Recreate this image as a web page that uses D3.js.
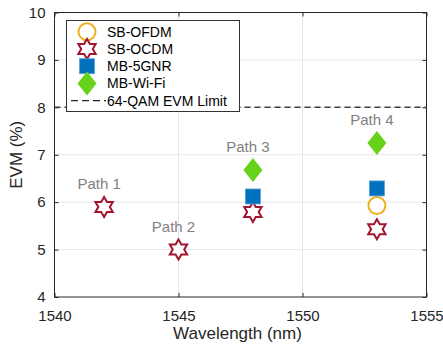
<!DOCTYPE html>
<html>
<head>
<meta charset="utf-8">
<script src="https://cdn.jsdelivr.net/npm/d3@7"></script>
<style>
  body { margin: 0; background: #fff; }
  text { font-family: "Liberation Sans", Arial, Helvetica, sans-serif; }
</style>
</head>
<body>
<div id="chart"></div>
<script>
const wavelengths = [1542, 1545, 1548, 1553];
const pathLabels = ["Path 1", "Path 2", "Path 3", "Path 4"];
const sbOfdm = [null, null, null, 5.93];
const sbOcdm = [5.9, 5.0, 5.79, 5.43];
const mb5gnr = [null, null, 6.12, 6.29];
const mbWifi = [null, null, 6.68, 7.25];
const evmLimit = 8;
const xTicks = [1540, 1545, 1550, 1555];
const yTicks = [4, 5, 6, 7, 8, 9, 10];
const legendNames = ["SB-OFDM", "SB-OCDM", "MB-5GNR", "MB-Wi-Fi", "64-QAM EVM Limit"];

var margin = { top: 12.5, right: 16.5, bottom: 51, left: 54.5 },
	width = 443 - margin.left - margin.right,
	height = 348 - margin.top - margin.bottom;

var svg = d3.select("#chart").append("svg")
	.attr("width", 443).attr("height", 348)
	.append("g")
	.attr("transform", "translate(" + margin.left + "," + margin.top + ")");

var x = d3.scaleLinear().domain([1540, 1555]).range([0, width]);
var y = d3.scaleLinear().domain([4, 10]).range([height, 0]);

// grid
svg.append("g").selectAll("line").data(xTicks.slice(1, -1)).enter().append("line")
	.attr("x1", d => x(d)).attr("x2", d => x(d)).attr("y1", 0).attr("y2", height)
	.attr("stroke", "#e6e6e6").attr("stroke-width", 1);
svg.append("g").selectAll("line").data(yTicks.slice(1, -1)).enter().append("line")
	.attr("y1", d => y(d)).attr("y2", d => y(d)).attr("x1", 0).attr("x2", width)
	.attr("stroke", "#e6e6e6").attr("stroke-width", 1);

// axes (ticks inward, box on)
var axisColor = "#262626";
function styleAxis(g) {
	g.select(".domain").remove();
	g.selectAll(".tick line").attr("stroke", axisColor);
	g.selectAll(".tick text").attr("fill", axisColor).style("font-size", "15px");
}
svg.append("g").attr("transform", "translate(0," + height + ")")
	.call(d3.axisBottom(x).tickValues(xTicks).tickFormat(d3.format("d")).tickSizeInner(-4).tickPadding(13))
	.call(styleAxis);
svg.append("g")
	.call(d3.axisLeft(y).tickValues(yTicks).tickFormat(d3.format("d")).tickSizeInner(-4).tickPadding(9))
	.call(styleAxis);
svg.append("g")
	.call(d3.axisTop(x).tickValues(xTicks).tickSizeInner(-4).tickFormat(""))
	.call(styleAxis);
svg.append("g").attr("transform", "translate(" + width + ",0)")
	.call(d3.axisRight(y).tickValues(yTicks).tickSizeInner(-4).tickFormat(""))
	.call(styleAxis);
svg.append("rect").attr("width", width).attr("height", height)
	.attr("fill", "none").attr("stroke", axisColor).attr("stroke-width", 1);

// axis labels
svg.append("text").attr("x", width / 2 - 3).attr("y", height + 42)
	.attr("text-anchor", "middle").style("font-size", "17px").attr("fill", axisColor)
	.text("Wavelength (nm)");
svg.append("text").attr("transform", "rotate(-90)")
	.attr("x", -(height / 2)).attr("y", -32.5)
	.attr("text-anchor", "middle").style("font-size", "17px").attr("fill", axisColor)
	.text("EVM (%)");

// limit line
svg.append("line").attr("x1", 0).attr("x2", width)
	.attr("y1", y(evmLimit)).attr("y2", y(evmLimit))
	.attr("stroke", "#404040").attr("stroke-width", 1.5).attr("stroke-dasharray", "6,4");

// markers
var colors = { ofdm: "#EDB120", ocdm: "#A2142F", gnr: "#0072BD", wifi: "#66D21A" };
function hexagram(R) {
	var pts = [];
	for (var k = 0; k < 12; k++) {
		var r = k % 2 === 0 ? R : R / Math.sqrt(3);
		var a = (-90 + 30 * k) * Math.PI / 180;
		pts.push([r * Math.cos(a), r * Math.sin(a)]);
	}
	return "M" + pts.map(p => p[0].toFixed(2) + "," + p[1].toFixed(2)).join("L") + "Z";
}
function drawMarker(g, type, cx, cy) {
	if (type === "ofdm") {
		g.append("circle").attr("cx", cx).attr("cy", cy).attr("r", 8.5)
			.attr("fill", "#fff").attr("stroke", colors.ofdm).attr("stroke-width", 2);
	} else if (type === "ocdm") {
		g.append("path").attr("d", hexagram(10)).attr("transform", "translate(" + cx + "," + cy + ")")
			.attr("fill", "#fff").attr("stroke", colors.ocdm).attr("stroke-width", 2);
	} else if (type === "gnr") {
		g.append("rect").attr("x", cx - 7.5).attr("y", cy - 7.5).attr("width", 15).attr("height", 15)
			.attr("fill", colors.gnr).attr("stroke", "#5a9fd6").attr("stroke-width", 0.8);
	} else {
		g.append("path").attr("d", "M0,-12L9.5,0L0,12L-9.5,0Z").attr("transform", "translate(" + cx + "," + cy + ")")
			.attr("fill", colors.wifi);
	}
}
var series = [["ofdm", sbOfdm], ["ocdm", sbOcdm], ["gnr", mb5gnr], ["wifi", mbWifi]];
var marks = svg.append("g");
series.forEach(function (s) {
	s[1].forEach(function (v, i) {
		if (v !== null) drawMarker(marks, s[0], x(wavelengths[i]), y(v));
	});
});

// path labels above the highest marker
wavelengths.forEach(function (w, i) {
	var top = d3.max(series, s => s[1][i]);
	svg.append("text").attr("x", x(w) - 5).attr("y", y(top) - 17.5)
		.attr("text-anchor", "middle").style("font-size", "15px").attr("fill", "#808080")
		.text(pathLabels[i]);
});

// legend
var lg = d3.select("svg").append("g");
lg.append("rect").attr("x", 66.5).attr("y", 20.5).attr("width", 173).attr("height", 91)
	.attr("fill", "#fff").attr("stroke", "#333").attr("stroke-width", 1);
legendNames.forEach(function (name, i) {
	var cy = 31.7 + i * 17.25;
	if (i < 4) drawMarker(lg, series[i][0], 87, cy);
	else lg.append("line").attr("x1", 71).attr("x2", 106).attr("y1", cy).attr("y2", cy)
		.attr("stroke", "#262626").attr("stroke-width", 1.2).attr("stroke-dasharray", "7,4");
	lg.append("text").attr("x", 107).attr("y", cy + 5).style("font-size", "14px")
		.attr("fill", "#000").text(name);
});
</script>
</body>
</html>
